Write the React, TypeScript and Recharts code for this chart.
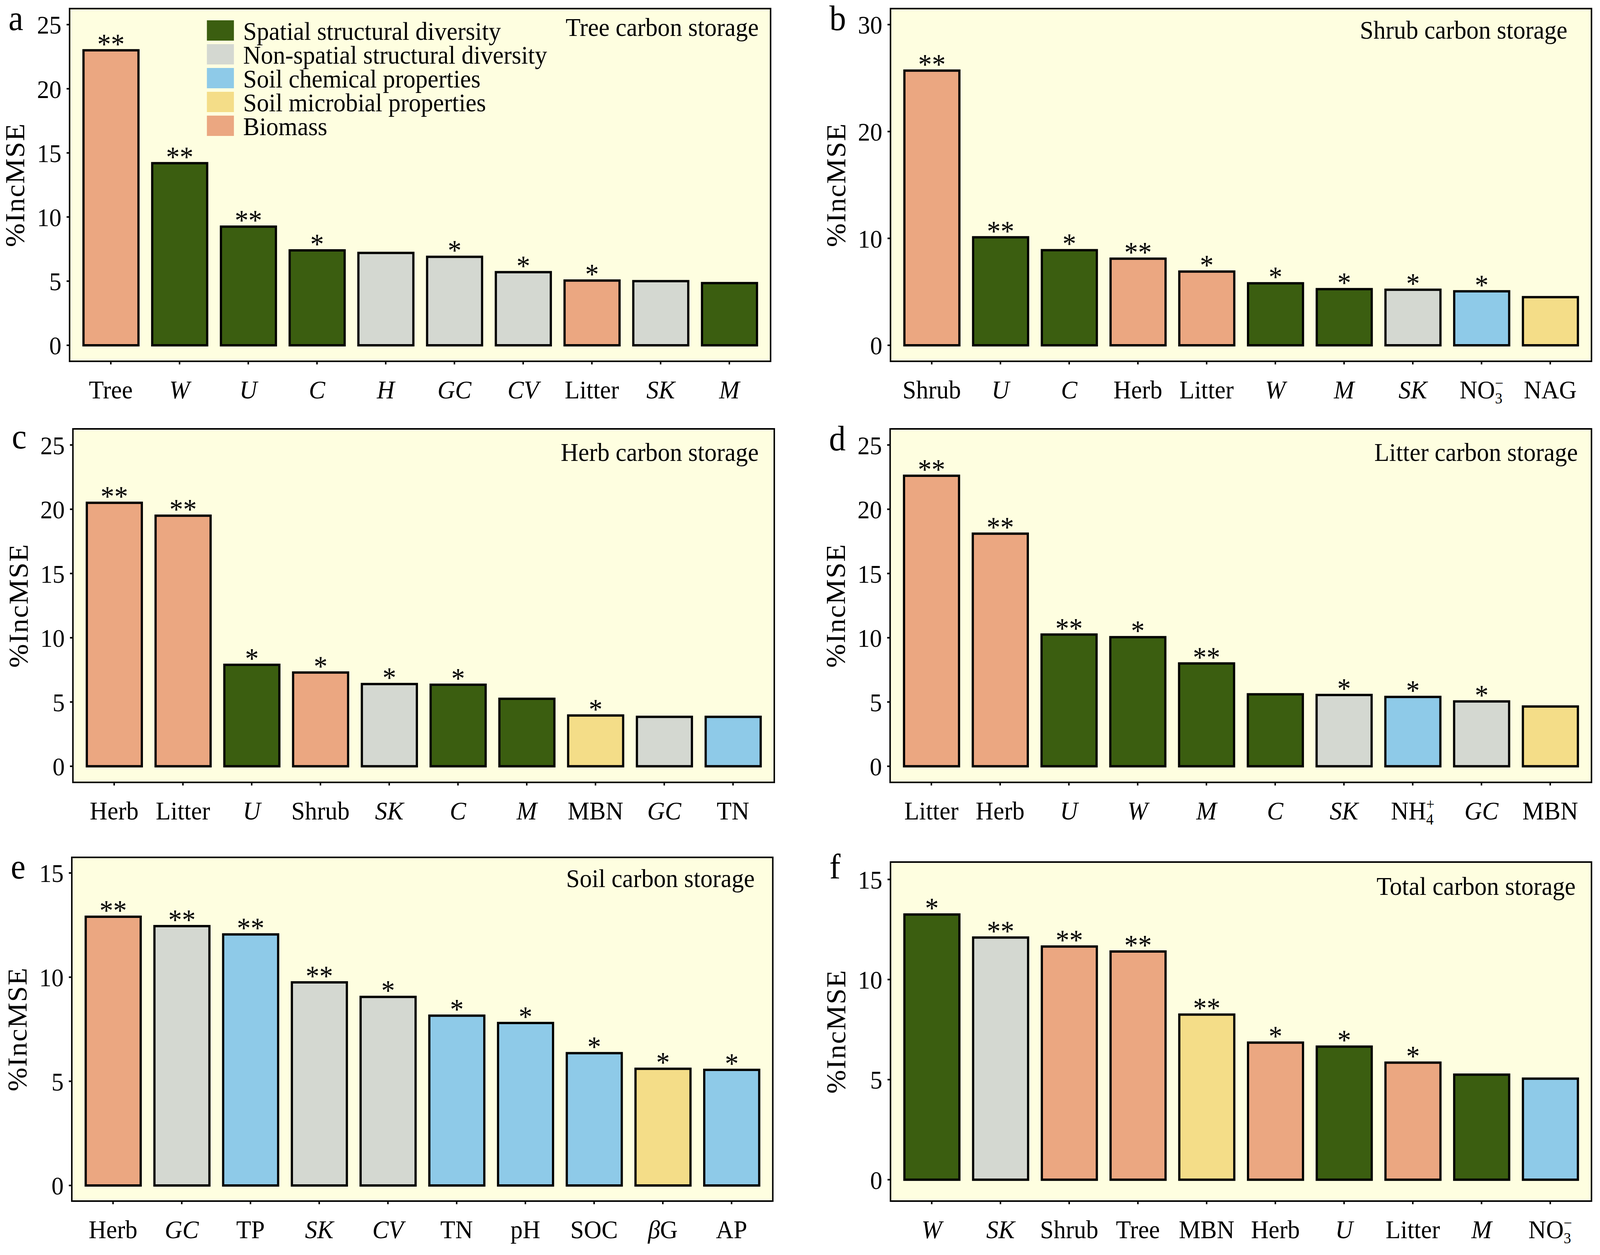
import React from 'react';
import * as R from 'recharts';

const { BarChart, Bar, XAxis, YAxis, CartesianGrid, LabelList, Cell } = R as any;
const Customized = (R as any).Customized;

const FONT = '"Liberation Serif", "Times New Roman", Times, serif';
const BG = '#fefee0';
const PAGE_W = 4323;
const PAGE_H = 3213;

// legend groups (index used in the *Groups arrays)
const groupNames = [
  'Spatial structural diversity',
  'Non-spatial structural diversity',
  'Soil chemical properties',
  'Soil microbial properties',
  'Biomass',
];
const groupColors = ['#3b5e10', '#d4d8d1', '#8ecae8', '#f4dd88', '#eba781'];

// variables typeset in italic on the x axis
const italicVars = ['W', 'U', 'C', 'H', 'GC', 'CV', 'SK', 'M'];

// a — tree
const treeLabels = ['Tree', 'W', 'U', 'C', 'H', 'GC', 'CV', 'Litter', 'SK', 'M'];
const treeValues = [23.0, 14.2, 9.25, 7.4, 7.2, 6.9, 5.7, 5.05, 5.0, 4.85];
const treeGroups = [4, 0, 0, 0, 1, 1, 1, 4, 1, 0];
const treeSig = ['**', '**', '**', '*', '', '*', '*', '*', '', ''];
const treeTicks = [0, 5, 10, 15, 20, 25];

// b — shrub
const shrubLabels = ['Shrub', 'U', 'C', 'Herb', 'Litter', 'W', 'M', 'SK', 'NO3-', 'NAG'];
const shrubValues = [25.7, 10.1, 8.9, 8.1, 6.9, 5.8, 5.25, 5.2, 5.05, 4.5];
const shrubGroups = [4, 0, 0, 4, 4, 0, 0, 1, 2, 3];
const shrubSig = ['**', '**', '*', '**', '*', '*', '*', '*', '*', ''];
const shrubTicks = [0, 10, 20, 30];

// c — herb
const herbLabels = ['Herb', 'Litter', 'U', 'Shrub', 'SK', 'C', 'M', 'MBN', 'GC', 'TN'];
const herbValues = [20.5, 19.5, 7.9, 7.3, 6.4, 6.35, 5.25, 3.95, 3.85, 3.85];
const herbGroups = [4, 4, 0, 4, 1, 0, 0, 3, 1, 2];
const herbSig = ['**', '**', '*', '*', '*', '*', '', '*', '', ''];
const herbTicks = [0, 5, 10, 15, 20, 25];

// d — litter
const litterLabels = ['Litter', 'Herb', 'U', 'W', 'M', 'C', 'SK', 'NH4+', 'GC', 'MBN'];
const litterValues = [22.6, 18.1, 10.25, 10.05, 8.0, 5.6, 5.55, 5.4, 5.05, 4.65];
const litterGroups = [4, 4, 0, 0, 0, 0, 1, 2, 1, 3];
const litterSig = ['**', '**', '**', '*', '**', '', '*', '*', '*', ''];
const litterTicks = [0, 5, 10, 15, 20, 25];

// e — soil
const soilLabels = ['Herb', 'GC', 'TP', 'SK', 'CV', 'TN', 'pH', 'SOC', 'βG', 'AP'];
const soilValues = [12.9, 12.45, 12.05, 9.75, 9.05, 8.15, 7.8, 6.35, 5.6, 5.55];
const soilGroups = [4, 1, 2, 1, 1, 2, 2, 2, 3, 2];
const soilSig = ['**', '**', '**', '**', '*', '*', '*', '*', '*', '*'];
const soilTicks = [0, 5, 10, 15];

// f — total
const totalLabels = ['W', 'SK', 'Shrub', 'Tree', 'MBN', 'Herb', 'U', 'Litter', 'M', 'NO3-'];
const totalValues = [13.25, 12.1, 11.65, 11.4, 8.25, 6.85, 6.65, 5.85, 5.25, 5.05];
const totalGroups = [0, 1, 4, 4, 3, 4, 0, 4, 0, 2];
const totalSig = ['*', '**', '**', '**', '**', '*', '*', '*', '', ''];
const totalTicks = [0, 5, 10, 15];

const panels = [
  { letter: 'a', title: 'Tree carbon storage', labels: treeLabels, values: treeValues, groups: treeGroups, sig: treeSig, ticks: treeTicks, domain: [-1.25, 26.25], box: { L: 188, R: 2082, T: 22, B: 925 }, titlePad: 32, titleDy: 70, letterDy: 55, legend: true },
  { letter: 'b', title: 'Shrub carbon storage', labels: shrubLabels, values: shrubValues, groups: shrubGroups, sig: shrubSig, ticks: shrubTicks, domain: [-1.5, 31.5], box: { L: 2406, R: 4300, T: 22, B: 925 }, titlePad: 65, titleDy: 77, letterDy: 55 },
  { letter: 'c', title: 'Herb carbon storage', labels: herbLabels, values: herbValues, groups: herbGroups, sig: herbSig, ticks: herbTicks, domain: [-1.25, 26.25], box: { L: 197, R: 2092, T: 1098, B: 2003 }, titlePad: 42, titleDy: 82, letterDy: 50 },
  { letter: 'd', title: 'Litter carbon storage', labels: litterLabels, values: litterValues, groups: litterGroups, sig: litterSig, ticks: litterTicks, domain: [-1.25, 26.25], box: { L: 2405, R: 4300, T: 1098, B: 2003 }, titlePad: 37, titleDy: 82, letterDy: 55 },
  { letter: 'e', title: 'Soil carbon storage', labels: soilLabels, values: soilValues, groups: soilGroups, sig: soilSig, ticks: soilTicks, domain: [-0.75, 15.75], box: { L: 194, R: 2088, T: 2195, B: 3075 }, titlePad: 49, titleDy: 76, letterDy: 54 },
  { letter: 'f', title: 'Total carbon storage', labels: totalLabels, values: totalValues, groups: totalGroups, sig: totalSig, ticks: totalTicks, domain: [-1.07, 15.87], box: { L: 2406, R: 4300, T: 2207, B: 3075 }, titlePad: 43, titleDy: 84, letterDy: 42 },
];

const YW = 185;
const MT = 45;
const MR = 15;
const XH = 135;

function labelParts(s: string) {
  if (s === 'NO3-' || s === 'NH4+') {
    const base = s.slice(0, 2);
    const sub = s[2];
    const sup = s[3] === '-' ? '−' : '+';
    return [
      <tspan key="b">{base}</tspan>,
      <tspan key="s" fontSize={40} dy={13}>{sub}</tspan>,
      <tspan key="p" fontSize={40} dx={-20} dy={-39}>{sup}</tspan>,
    ];
  }
  if (s === 'βG') {
    return [<tspan key="g" fontStyle="italic">β</tspan>, <tspan key="G">G</tspan>];
  }
  if (italicVars.includes(s)) return [<tspan key="i" fontStyle="italic">{s}</tspan>];
  return [<tspan key="t">{s}</tspan>];
}

function XTick(props: any) {
  const { x, y, payload } = props;
  return (
    <text x={x} y={y + 87} textAnchor="middle" fontSize={66} fill="#000" fontFamily={FONT}>
      {labelParts(String(payload.value))}
    </text>
  );
}

function StarLabel(props: any) {
  const { x, y, width, value } = props;
  if (!value) return null;
  return (
    <text x={x + width / 2} y={y + 9} textAnchor="middle" fontSize={74} fill="#000" fontFamily={FONT}>
      {value}
    </text>
  );
}

function Frame({ px, py, pw, ph, title, titlePad, titleDy, letter, letterDy, legend }: any) {
  return (
    <g fontFamily={FONT} fill="#000">
      <rect x={px} y={py} width={pw} height={ph} fill="none" stroke="#000" strokeWidth={4} />
      <text x={px + pw - titlePad} y={py + titleDy} textAnchor="end" fontSize={66}>{title}</text>
      <text x={px - 165} y={py + letterDy} fontSize={90}>{letter}</text>
      <text
        transform={`translate(${px - 147}, ${py + ph / 2}) rotate(-90)`}
        textAnchor="middle"
        dominantBaseline="central"
        fontSize={73}
        letterSpacing={2}
      >
        %IncMSE
      </text>
      {legend &&
        groupNames.map((g, i) => (
          <g key={g}>
            <rect x={px + 371} y={py + 30 + i * 61} width={73} height={52} fill={groupColors[i]} />
            <text x={px + 469} y={py + 30 + i * 61 + 50} fontSize={66}>{g}</text>
          </g>
        ))}
    </g>
  );
}

function Panel({ p }: any) {
  const { L, R: Rr, T, B } = p.box;
  const pw = Rr - L;
  const ph = B - T;
  const width = pw + YW + MR;
  const height = ph + MT + XH;
  const u = pw / 10.2;
  const pad = 0.1 * u;
  const barSize = 0.8 * u;
  const data = p.labels.map((name: string, i: number) => ({
    name,
    value: p.values[i],
    group: p.groups[i],
    sig: p.sig[i],
  }));
  const frame = (
    <Frame
      px={YW}
      py={MT}
      pw={pw}
      ph={ph}
      title={p.title}
      titlePad={p.titlePad}
      titleDy={p.titleDy}
      letter={p.letter}
      letterDy={p.letterDy}
      legend={p.legend}
    />
  );
  return (
    <div style={{ position: 'absolute', left: L - YW, top: T - MT }}>
      <BarChart width={width} height={height} data={data} margin={{ top: MT, right: MR, bottom: 0, left: 0 }}>
        <CartesianGrid horizontal={false} vertical={false} fill={BG} stroke="none" />
        <XAxis
          dataKey="name"
          type="category"
          interval={0}
          padding={{ left: pad, right: pad }}
          height={XH}
          tickSize={8}
          tickMargin={0}
          tickLine={{ stroke: '#000', strokeWidth: 4 }}
          axisLine={false}
          tick={<XTick />}
        />
        <YAxis
          type="number"
          domain={p.domain}
          ticks={p.ticks}
          allowDataOverflow
          width={YW}
          tickSize={8}
          tickMargin={14}
          tickLine={{ stroke: '#000', strokeWidth: 4 }}
          axisLine={false}
          tick={{ fontSize: 66, fill: '#000', fontFamily: FONT }}
        />
        <Bar dataKey="value" barSize={barSize} stroke="#000" strokeWidth={6} isAnimationActive={false}>
          {data.map((d: any, i: number) => (
            <Cell key={i} fill={groupColors[d.group]} />
          ))}
          <LabelList dataKey="sig" content={(lp: any) => <StarLabel {...lp} />} />
        </Bar>
        {Customized ? <Customized component={frame} /> : frame}
      </BarChart>
    </div>
  );
}

export default function App() {
  // the browser viewport can be smaller than the requested picture; stretch the figure to fill it
  const vw = typeof window !== 'undefined' ? window.innerWidth : PAGE_W;
  const vh = typeof window !== 'undefined' ? window.innerHeight : PAGE_H;
  const sx = Math.min(1, vw / PAGE_W);
  const sy = Math.min(1, vh / PAGE_H);
  return (
    <div
      style={{
        position: 'absolute',
        left: 0,
        top: 0,
        width: PAGE_W * sx,
        height: PAGE_H * sy,
        overflow: 'hidden',
        background: '#fff',
      }}
    >
      <div
        style={{
          position: 'absolute',
          left: 0,
          top: 0,
          width: PAGE_W,
          height: PAGE_H,
          transform: `scale(${sx}, ${sy})`,
          transformOrigin: '0 0',
          fontFamily: FONT,
        }}
      >
        {panels.map((p) => (
          <Panel key={p.letter} p={p} />
        ))}
      </div>
    </div>
  );
}
